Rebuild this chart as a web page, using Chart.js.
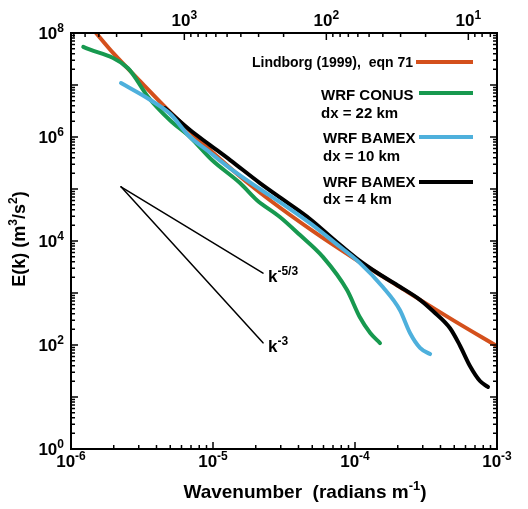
<!DOCTYPE html>
<html>
<head>
<meta charset="utf-8">
<script src="https://cdn.jsdelivr.net/npm/chart.js@4.4.1/dist/chart.umd.min.js"></script>
<style>
    body { margin: 0; background: #fff; }
    #wrap { width: 528px; height: 509px; }
</style>
</head>
<body>
<div id="wrap"><canvas id="spectra" width="528" height="509"></canvas></div>
<script>
// Lindborg (1999), eqn 71
const lindborgK = [1.5e-6, 2e-6, 3e-6, 5e-6, 1e-5, 2e-5, 5e-5, 1e-4, 2e-4, 5e-4, 1e-3];
const lindborgE = [1.0e8, 4.0e7, 1.26e7, 3.0e6, 5.0e5, 9.9e4, 1.58e4, 4.5e3, 1.37e3, 291, 95];

// WRF CONUS dx = 22 km
const conusK = [1.22e-6, 2.52e-6, 3.49e-6, 4.98e-6, 6.89e-6, 9.84e-6, 1.55e-5, 2.04e-5, 2.96e-5, 4.1e-5, 5.96e-5, 8.79e-5, 1.08e-4, 1.28e-4, 1.5e-4];
const conusE = [5.4e7, 2.1e7, 5.9e6, 2.1e6, 1.0e6, 3.6e5, 1.3e5, 6.1e4, 2.9e4, 1.3e4, 4.9e3, 1.14e3, 345, 170, 109];

// WRF BAMEX dx = 10 km
const bamex10K = [2.25e-6, 3.6e-6, 4.98e-6, 6.89e-6, 9.07e-6, 1.32e-5, 2.14e-5, 2.96e-5, 4.82e-5, 7.23e-5, 1.08e-4, 1.57e-4, 2.07e-4, 2.44e-4, 2.87e-4, 3.38e-4];
const bamex10E = [1.09e7, 5.2e6, 2.8e6, 1.0e6, 5.6e5, 2.5e5, 1.0e5, 5.6e4, 2.2e4, 9.2e3, 3.8e3, 1.3e3, 470, 170, 88, 67];

// WRF BAMEX dx = 4 km
const bamex4K = [4.59e-6, 6.89e-6, 9.53e-6, 1.32e-5, 2.14e-5, 3.21e-5, 4.82e-5, 7.23e-5, 1.03e-4, 1.45e-4, 2.07e-4, 2.87e-4, 3.54e-4, 4.67e-4, 5.48e-4, 6.45e-4, 7.59e-4, 8.64e-4];
const bamex4E = [3.6e6, 1.36e6, 7.0e5, 3.6e5, 1.3e5, 5.9e4, 2.65e4, 1.02e4, 4.6e3, 2.4e3, 1.32e3, 740, 450, 210, 98, 39.5, 20.3, 15.6];

// reference slopes k^-5/3 and k^-3
const slopeK = [2.25e-6, 2.25e-5];
const slope53E = [1.1e5, 2.4e3];
const slope3E = [1.1e5, 110];

// tick labels
const xTickExponents = ['-6', '-5', '-4', '-3'];
const yTickExponents = ['0', '2', '4', '6', '8'];
const topWavelengths = [1000, 100, 10];          // km
const topTickExponents = ['3', '2', '1'];
const topMinorWavelengths = [6000, 5000, 4000, 3000, 2000, 900, 800, 700, 600, 500, 400, 300, 200, 90, 80, 70, 60, 50, 40, 30, 20, 9, 8, 7];

const FONT = '"Liberation Sans", Arial, Helvetica, sans-serif';
const COLORS = {
    lindborg: '#d4501c',
    conus: '#17994f',
    bamex10: '#4eb0dc',
    bamex4: '#000000'
};

function points(ks, es) {
    return ks.map((k, i) => ({ x: k, y: es[i] }));
}

// wavelength (km) -> wavenumber (radians per m)
function kFromKm(km) {
    return 2 * Math.PI / (km * 1000);
}

// draw a run of text segments, some of them superscripts
function drawRich(ctx, segs, x, y, align, size) {
    const supSize = Math.round(size * 0.68);
    let total = 0;
    const widths = segs.map(s => {
        ctx.font = `bold ${s.sup ? supSize : size}px ${FONT}`;
        const w = ctx.measureText(s.t).width;
        total += w;
        return w;
    });
    let cx = x;
    if (align === 'center') cx = x - total / 2;
    else if (align === 'right') cx = x - total;
    ctx.textAlign = 'left';
    ctx.textBaseline = 'alphabetic';
    segs.forEach((s, i) => {
        ctx.font = `bold ${s.sup ? supSize : size}px ${FONT}`;
        ctx.fillText(s.t, cx, s.sup ? y - size * 0.42 : y);
        cx += widths[i];
    });
}

const axisDecor = {
    id: 'axisDecor',
    afterDraw(chart) {
        const ctx = chart.ctx;
        const { left, right, top, bottom } = chart.chartArea;
        const xs = chart.scales.x;
        const ys = chart.scales.y;
        ctx.save();
        ctx.fillStyle = '#000';
        ctx.strokeStyle = '#000';

        // frame
        ctx.lineWidth = 2;
        ctx.strokeRect(left, top, right - left, bottom - top);

        // bottom ticks (wavenumber)
        ctx.lineWidth = 1.5;
        ctx.beginPath();
        for (let d = -6; d <= -3; d++) {
            for (let m = 1; m <= 9; m++) {
                const v = m * Math.pow(10, d);
                if (v > 1e-3 * 1.0001) break;
                const px = xs.getPixelForValue(v);
                const len = m === 1 ? 7 : 4;
                ctx.moveTo(px, bottom);
                ctx.lineTo(px, bottom - len);
            }
        }
        // left + right ticks (energy)
        for (let d = 0; d <= 8; d++) {
            for (let m = 1; m <= 9; m++) {
                const v = m * Math.pow(10, d);
                if (v > 1e8 * 1.0001) break;
                const py = ys.getPixelForValue(v);
                const len = m === 1 ? 7 : 4;
                ctx.moveTo(left, py);
                ctx.lineTo(left + len, py);
                ctx.moveTo(right, py);
                ctx.lineTo(right - len, py);
            }
        }
        // top ticks (wavelength)
        topWavelengths.forEach(km => {
            const px = xs.getPixelForValue(kFromKm(km));
            ctx.moveTo(px, top);
            ctx.lineTo(px, top + 7);
        });
        topMinorWavelengths.forEach(km => {
            const px = xs.getPixelForValue(kFromKm(km));
            ctx.moveTo(px, top);
            ctx.lineTo(px, top + 4);
        });
        ctx.stroke();

        // tick labels
        xTickExponents.forEach(e => {
            const px = xs.getPixelForValue(Math.pow(10, Number(e)));
            drawRich(ctx, [{ t: '10' }, { t: e, sup: true }], px, 467, 'center', 17);
        });
        yTickExponents.forEach(e => {
            const py = ys.getPixelForValue(Math.pow(10, Number(e)));
            drawRich(ctx, [{ t: '10' }, { t: e, sup: true }], 64, py + 6, 'right', 17);
        });
        topWavelengths.forEach((km, i) => {
            const px = xs.getPixelForValue(kFromKm(km));
            drawRich(ctx, [{ t: '10' }, { t: topTickExponents[i], sup: true }], px, 26, 'center', 17);
        });

        // axis titles
        drawRich(ctx, [{ t: 'Wavenumber  (radians m' }, { t: '-1', sup: true }, { t: ')' }], 305, 498, 'center', 19);
        ctx.save();
        ctx.translate(25, 239);
        ctx.rotate(-Math.PI / 2);
        drawRich(ctx, [{ t: 'E(k) (m' }, { t: '3', sup: true }, { t: '/s' }, { t: '2', sup: true }, { t: ')' }], 0, 0, 'center', 18);
        ctx.restore();

        // slope labels
        drawRich(ctx, [{ t: 'k' }, { t: '-5/3', sup: true }], 268, 282, 'left', 17);
        drawRich(ctx, [{ t: 'k' }, { t: '-3', sup: true }], 268, 352, 'left', 17);

        // legend
        ctx.textBaseline = 'middle';
        ctx.textAlign = 'right';
        ctx.font = `bold 14px ${FONT}`;
        ctx.fillText('Lindborg (1999),  eqn 71', 413, 63);
        ctx.font = `bold 15px ${FONT}`;
        ctx.textAlign = 'left';
        ctx.fillText('WRF CONUS', 321, 96);
        ctx.fillText('dx = 22 km', 321, 114);
        ctx.fillText('WRF BAMEX', 323, 139);
        ctx.fillText('dx = 10 km', 323, 157);
        ctx.fillText('WRF BAMEX', 323, 183);
        ctx.fillText('dx = 4 km', 323, 200);

        ctx.lineWidth = 4;
        [[COLORS.lindborg, 62, 416], [COLORS.conus, 93, 419], [COLORS.bamex10, 137, 419], [COLORS.bamex4, 182, 419]].forEach(([c, y, x0]) => {
            ctx.strokeStyle = c;
            ctx.beginPath();
            ctx.moveTo(x0, y);
            ctx.lineTo(473, y);
            ctx.stroke();
        });
        ctx.restore();
    }
};

function series(label, ks, es, color, order, width) {
    return {
        label: label,
        data: points(ks, es),
        borderColor: color,
        backgroundColor: color,
        borderWidth: width,
        pointRadius: 0,
        showLine: true,
        fill: false,
        cubicInterpolationMode: 'monotone',
        borderCapStyle: 'round',
        borderJoinStyle: 'round',
        order: order
    };
}

const logAxis = (position, min, max, size) => ({
    type: 'logarithmic',
    position: position,
    min: min,
    max: max,
    grid: { display: false },
    border: { display: false },
    ticks: { display: false },
    afterFit: (scale) => {
        if (position === 'top' || position === 'bottom') scale.height = size;
        else scale.width = size;
    }
});

const spectraChart = new Chart(document.getElementById('spectra').getContext('2d'), {
    type: 'scatter',
    data: {
        datasets: [
            series('k^-5/3', slopeK, slope53E, '#000', 0, 1.5),
            series('k^-3', slopeK, slope3E, '#000', 0, 1.5),
            series('WRF BAMEX dx = 10 km', bamex10K, bamex10E, COLORS.bamex10, 1, 4),
            series('WRF CONUS dx = 22 km', conusK, conusE, COLORS.conus, 2, 4),
            series('WRF BAMEX dx = 4 km', bamex4K, bamex4E, COLORS.bamex4, 3, 4),
            series('Lindborg (1999), eqn 71', lindborgK, lindborgE, COLORS.lindborg, 4, 4)
        ]
    },
    options: {
        responsive: false,
        animation: false,
        events: [],
        layout: { padding: 0 },
        plugins: {
            legend: { display: false },
            tooltip: { enabled: false }
        },
        scales: {
            x: logAxis('bottom', 1e-6, 1e-3, 60),
            x2: logAxis('top', 1e-6, 1e-3, 33),
            y: logAxis('left', 1, 1e8, 71),
            y2: logAxis('right', 1, 1e8, 31)
        }
    },
    plugins: [axisDecor]
});
</script>
</body>
</html>
